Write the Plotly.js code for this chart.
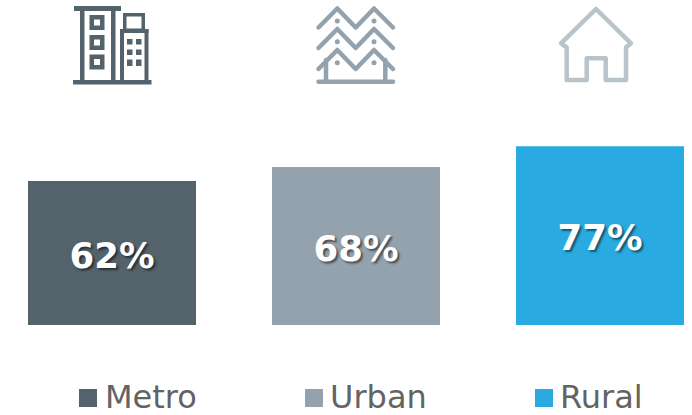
<!DOCTYPE html>
<html>
<head>
<meta charset="utf-8">
<script src="https://cdn.plot.ly/plotly-3.0.1.min.js"></script>
<style>
  html, body { margin: 0; padding: 0; background: #fff; }
  #chart { width: 692px; height: 415px; }
  .shapelayer path { stroke-linejoin: round; stroke-linecap: round; }
</style>
</head>
<body>
<div id="chart"></div>
<script>
// Share of respondents by settlement type
const categories = ['Metro', 'Urban', 'Rural'];
const shares = [62, 68, 77];
const barColors = ['#54626c', '#94a2ad', '#29abe2'];

const rect = (x0, y0, x1, y1) => `M${x0},${y0}H${x1}V${y1}H${x0}Z`;
const ring = (x0, y0, x1, y1, w) => rect(x0, y0, x1, y1) + rect(x0 + w, y0 + w, x1 - w, y1 - w);

// Icons and legend swatches live on a hidden pixel-scaled axis pair
const pixelShape = (o) => Object.assign({ xref: 'x2', yref: 'y2', layer: 'above' }, o);
const solid = (d, color) => pixelShape({ type: 'path', path: d, fillcolor: color, fillrule: 'evenodd', line: { width: 0 } });
const stroked = (d, color, w) => pixelShape({ type: 'path', path: d, line: { color: color, width: w } });

// Office buildings
const metroIcon = [
  rect(74, 6, 121, 11), rect(73, 80, 151.5, 84.5),
  rect(80, 8, 84.5, 82), rect(111, 8, 115.5, 82),
  ring(89.5, 15, 104.5, 30, 4.5), ring(89.5, 35, 104.5, 50, 4.5), ring(89.5, 54.5, 104.5, 69.5, 4.5),
  ring(123, 13, 145, 32, 3.5), rect(120, 29, 148.5, 33),
  rect(120, 29, 124, 82), rect(144.5, 29, 148.5, 82),
  rect(127, 39, 132.5, 44.5), rect(136, 39, 141.5, 44.5),
  rect(127, 49.5, 132.5, 55), rect(136, 49.5, 141.5, 55),
  rect(127, 59.5, 132.5, 66), rect(136, 59.5, 141.5, 66)
].map((d) => solid(d, barColors[0]));

// Rows of roofs
const urbanColor = barColors[1];
const chevron = (y) => `M318.5,${y + 19}L337.3,${y}L355.7,${y + 19}L374,${y}L393,${y + 19}`;
const urbanIcon = [
  stroked(chevron(8.5), urbanColor, 4.5),
  stroked(chevron(29), urbanColor, 4.5),
  stroked(chevron(50), urbanColor, 4.5),
  stroked('M326,60V81M385.3,60V81', urbanColor, 4.5),
  stroked('M318.5,81.7H393', urbanColor, 4.5)
];

// Single house
const ruralIcon = [stroked(
  'M596,9L561,43.3L566.7,47.3V80H586.7V58.3H605.7V80H626V47.3L631,43.3Z',
  '#b8c4cb', 4.5
)];

// Hand-placed legend row
const legendSwatchX = [79, 305, 535];
const legendTextX = [106, 331, 561];
const legendShapes = categories.map((_, i) => pixelShape({
  type: 'rect', x0: legendSwatchX[i], x1: legendSwatchX[i] + 18, y0: 389, y1: 407,
  fillcolor: barColors[i], line: { width: 0 }
}));
const legendLabels = categories.map((name, i) => ({
  text: name, xref: 'x2', yref: 'y2', x: legendTextX[i], y: 396.5,
  xanchor: 'left', yanchor: 'middle', showarrow: false, xshift: -2, borderpad: 0,
  font: { family: 'DejaVu Sans, sans-serif', size: 32, color: '#636363' }
}));

const bars = {
  type: 'bar',
  x: [0, 1, 2],
  y: shares,
  width: 0.6885,
  marker: { color: barColors, line: { width: 0 } },
  text: shares.map((v) => v + '%'),
  texttemplate: '%{text}',
  textposition: 'inside',
  insidetextanchor: 'middle',
  constraintext: 'none',
  textangle: 0,
  textfont: {
    family: 'DejaVu Sans, sans-serif', size: 35.5, weight: 700, color: '#ffffff',
    shadow: '2px 2px 2px rgba(0,0,0,0.5)'
  },
  hoverinfo: 'skip',
  showlegend: false
};

// Small dots under each roof peak, also on the pixel axes
const roofDotX = [337.3, 374, 337.3, 374, 337.3, 374];
const roofDotY = [21, 21, 41.7, 41.7, 62.7, 62.7];
const roofDots = {
  type: 'scatter', mode: 'markers', x: roofDotX, y: roofDotY, xaxis: 'x2', yaxis: 'y2',
  marker: { color: urbanColor, size: 5, line: { width: 0 } },
  hoverinfo: 'skip', showlegend: false
};

const hidden = { visible: false, fixedrange: true };
const layout = {
  width: 692, height: 415,
  margin: { l: 0, r: 0, t: 0, b: 0, pad: 0 },
  paper_bgcolor: '#fff', plot_bgcolor: '#fff',
  showlegend: false,
  xaxis: Object.assign({ range: [-0.459, 2.377] }, hidden),
  yaxis: Object.assign({ range: [-38.75, 139.93] }, hidden),
  xaxis2: Object.assign({ range: [0, 692], overlaying: 'x', anchor: 'y2' }, hidden),
  yaxis2: Object.assign({ range: [415, 0], overlaying: 'y', anchor: 'x2' }, hidden),
  shapes: [...metroIcon, ...urbanIcon, ...ruralIcon, ...legendShapes],
  annotations: legendLabels
};

Plotly.newPlot('chart', [bars, roofDots], layout, { displayModeBar: false, staticPlot: true }).then(() => {
  // Nudge the value labels a touch below the bar centres
  document.querySelectorAll('.bars .bartext').forEach((t) => {
    t.setAttribute('transform', 'translate(0,2) ' + (t.getAttribute('transform') || ''));
  });
});
</script>
</body>
</html>
